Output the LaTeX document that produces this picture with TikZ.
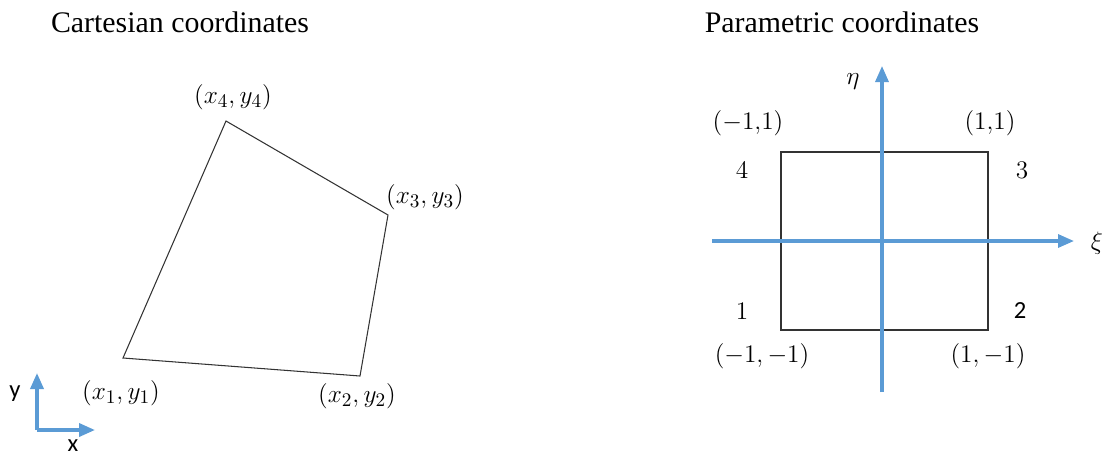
\documentclass[tikz,border=0pt]{standalone}
\usepackage{fontspec}
\setmainfont{Liberation Serif}
\newfontfamily\calibrifont{Carlito}
\usepackage{xcolor}
\usepackage{tikz}
\usetikzlibrary{arrows.meta,positioning}

\definecolor{axisblue}{RGB}{91,155,213}

\begin{document}
\begin{tikzpicture}[
  x=0.02cm, y=-0.02cm,
  >={Triangle[length=3.2mm, width=2.6mm]},
  title/.style={font=\fontsize{17}{20}\selectfont, inner sep=0pt},
  pt/.style={font=\fontsize{14}{16}\selectfont, inner sep=1pt},
  vtx/.style={font=\fontsize{15.5}{18}\selectfont, inner sep=1pt},
  sans/.style={font=\calibrifont\fontsize{14}{16}\selectfont, inner sep=1pt},
  edge/.style={draw=black!80, line width=0.6pt},
  axis/.style={draw=axisblue, line width=1.8pt, ->}
]
\useasboundingbox (0,0) rectangle (1107,458);

% --- cartesian element
\node[title] (ctitle) at (180,22) {Cartesian coordinates};
\coordinate (p1) at (123,358);
\coordinate (p2) at (360,376);
\coordinate (p3) at (388,215);
\coordinate (p4) at (226,121);
\draw[edge] (p1) -- (p2) -- (p3) -- (p4) -- cycle;
\node[vtx] (l1) at (121,393) {$(x_1,y_1)$};
\node[vtx] (l2) at (357,396) {$(x_2,y_2)$};
\node[vtx] (l3) at (425,197) {$(x_3,y_3)$};
\node[vtx] (l4) at (233,97) {$(x_4,y_4)$};

% small x-y triad
\coordinate (o) at (37,430);
\coordinate (oy) at (37,373);
\coordinate (ox) at (95,430);
\draw[axis, line width=2pt] (o) -- (oy);
\draw[axis, line width=2pt] (o) -- (ox);
\node[sans] (ylbl) at (15,394) {y};
\node[sans] (xlbl) at (73,446) {x};

% --- parametric element
\node[title] (ptitle) at (842,22) {Parametric coordinates};
\coordinate (q1) at (781,330);
\coordinate (q3) at (988,152);
\draw[edge] (q1) rectangle (q3);
\coordinate (xis) at (712,241);
\coordinate (xie) at (1074,241);
\coordinate (ets) at (882,392);
\coordinate (ete) at (882,66);
\draw[axis] (xis) -- (xie);
\draw[axis] (ets) -- (ete);
\node[pt] (xi) at (1097,243) {$\xi$};
\node[pt] (eta) at (853,82) {$\eta$};

\node[pt] (c4) at (748,123) {$(-1{,}1)$};
\node[pt] (c3) at (990,123) {$(1{,}1)$};
\node[pt] (c1) at (762,356) {$(-1,-1)$};
\node[pt] (c2) at (988,356) {$(1,-1)$};
\node[pt] (n4) at (742,170) {$4$};
\node[pt] (n3) at (1022,170) {$3$};
\node[pt] (n1) at (742,311) {$1$};
\node[sans] (n2) at (1020,311) {2};
\end{tikzpicture}
\end{document}
